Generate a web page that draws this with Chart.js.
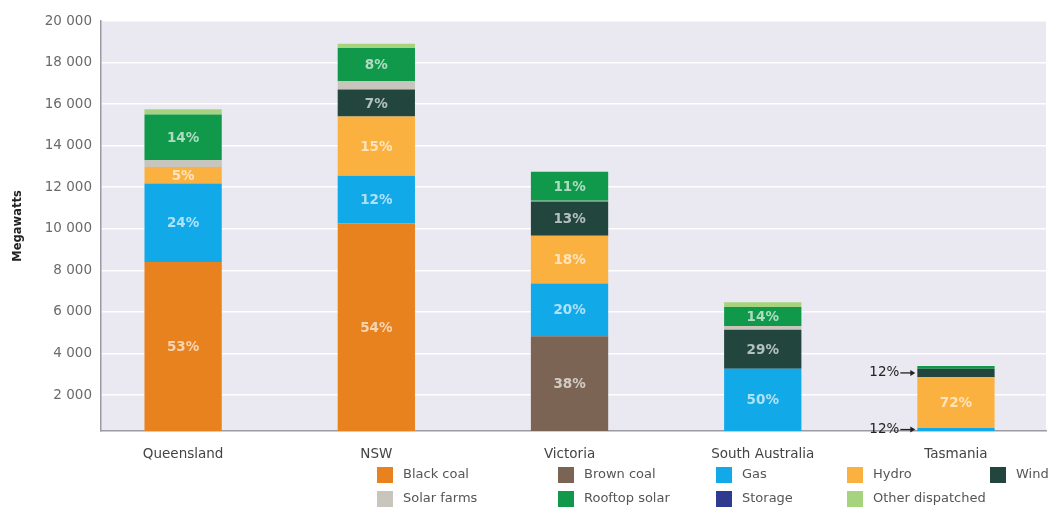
<!DOCTYPE html>
<html>
<head>
<meta charset="utf-8">
<title>Installed capacity by region</title>
<script src="https://cdn.jsdelivr.net/npm/chart.js@4.4.1/dist/chart.umd.min.js"></script>
<style>
  html, body { margin: 0; padding: 0; background: #fff; }
  #wrap { width: 1050px; height: 508px; }
</style>
</head>
<body>
<div id="wrap"><canvas id="capacityChart" width="1050" height="508"></canvas></div>
<script>
// Installed capacity (MW) per region, stacked by fuel
const regions = ['Queensland', 'NSW', 'Victoria', 'South Australia', 'Tasmania'];
const blackCoal       = [8400, 10250,    0,    0,    0];
const brownCoal       = [   0,     0, 4830,    0,    0];
const gas             = [3780,  2300, 2540, 3260,  410];
const hydro           = [ 800,  2850, 2290,    0, 2450];
const wind            = [   0,  1300, 1650, 1880,  410];
const solarFarms      = [ 320,   400,   40,  180,    0];
const rooftopSolar    = [2200,  1600, 1390,  920,  130];
const storage         = [   0,     0,    0,    0,    0];
const otherDispatched = [ 250,   200,    0,  220,    0];

const yTicks = [2000, 4000, 6000, 8000, 10000, 12000, 14000, 16000, 18000, 20000];

const fuelNames = ['Black coal', 'Brown coal', 'Gas', 'Hydro', 'Wind',
                   'Solar farms', 'Rooftop solar', 'Storage', 'Other dispatched'];
const fuelValues = [blackCoal, brownCoal, gas, hydro, wind,
                    solarFarms, rooftopSolar, storage, otherDispatched];
const fuelColours = ['#e8821f', '#7b6454', '#12a9e9', '#fbb140', '#22463e',
                     '#c9c5bd', '#10994a', '#2e3b8f', '#a6d47e'];
// fuels that get their share written on the bar
const labelledFuels = ['Black coal', 'Brown coal', 'Gas', 'Hydro', 'Wind', 'Rooftop solar'];

const FONT = '"DejaVu Sans", "Liberation Sans", sans-serif';

const plotBackground = {
  id: 'plotBackground',
  beforeDraw(chart) {
    const { ctx, chartArea: a } = chart;
    ctx.save();
    ctx.fillStyle = '#eae9f1';
    ctx.fillRect(a.left, a.top, a.right - a.left, a.bottom - a.top);
    ctx.restore();
  }
};

const shareLabels = {
  id: 'shareLabels',
  afterDatasetsDraw(chart) {
    const { ctx, chartArea: a } = chart;
    const totals = regions.map((_, i) => fuelValues.reduce((s, arr) => s + arr[i], 0));
    ctx.save();
    ctx.textBaseline = 'middle';
    chart.data.datasets.forEach((ds, d) => {
      if (!labelledFuels.includes(ds.label)) return;
      chart.getDatasetMeta(d).data.forEach((bar, i) => {
        const v = fuelValues[d][i];
        if (!v) return;
        const share = Math.round(v / totals[i] * 100);
        const pct = share + '%';
        const top = Math.max(bar.y, a.top);
        const bottom = Math.min(bar.base, a.bottom);
        const mid = (top + bottom) / 2;
        if (bottom - top >= 14) {
          ctx.font = 'bold 13.5px ' + FONT;
          ctx.fillStyle = 'rgba(255,255,255,0.66)';
          ctx.textAlign = 'center';
          ctx.fillText(pct, bar.x, mid + 1);
        } else if (share >= 10) {
          // thin segment: label sits left of the bar with an arrow
          const edge = bar.x - bar.width / 2;
          ctx.font = '13.5px ' + FONT;
          ctx.fillStyle = '#222';
          ctx.strokeStyle = '#222';
          ctx.textAlign = 'right';
          ctx.fillText(pct, edge - 18, mid);
          ctx.lineWidth = 1.3;
          ctx.beginPath();
          ctx.moveTo(edge - 17, mid);
          ctx.lineTo(edge - 6, mid);
          ctx.stroke();
          ctx.beginPath();
          ctx.moveTo(edge - 2, mid);
          ctx.lineTo(edge - 7, mid - 3);
          ctx.lineTo(edge - 7, mid + 3);
          ctx.closePath();
          ctx.fill();
        }
      });
    });
    ctx.restore();
  }
};

// two-row legend with aligned columns under the plot
const fuelLegend = {
  id: 'fuelLegend',
  afterDraw(chart) {
    const { ctx } = chart;
    const colX = [377, 558, 716, 847, 990];
    const rowY = [475, 499];
    ctx.save();
    ctx.font = '13px ' + FONT;
    ctx.textBaseline = 'middle';
    ctx.textAlign = 'left';
    chart.data.datasets.forEach((ds, d) => {
      const x = colX[d % 5];
      const y = rowY[Math.floor(d / 5)];
      ctx.fillStyle = ds.backgroundColor;
      ctx.fillRect(x, y - 8, 16, 16);
      ctx.fillStyle = '#555';
      ctx.fillText(ds.label, x + 26, y);
    });
    ctx.restore();
  }
};

new Chart(document.getElementById('capacityChart'), {
  type: 'bar',
  data: {
    datasets: fuelNames.map((name, d) => ({
      label: name,
      data: fuelValues[d].map((v, i) => ({ x: i, y: v })),
      backgroundColor: fuelColours[d],
      borderWidth: 0,
      categoryPercentage: 0.8,
      barPercentage: 0.5
    }))
  },
  options: {
    responsive: false,
    animation: false,
    devicePixelRatio: 1,
    layout: { padding: { top: 21, left: 6, right: 4, bottom: 0 } },
    plugins: {
      legend: { display: false },
      tooltip: { enabled: false }
    },
    scales: {
      x: {
        type: 'linear',
        min: -0.425,
        max: 4.466,
        offset: false,
        stacked: true,
        grid: { display: false, offset: false },
        border: { color: '#9b9ba3', width: 1.5 },
        afterBuildTicks: s => { s.ticks = regions.map((_, i) => ({ value: i })); },
        afterFit: s => { s.height = 77; },
        ticks: {
          callback: v => regions[v],
          autoSkip: false,
          maxRotation: 0,
          padding: 7,
          color: '#444',
          font: { family: FONT, size: 13.5 }
        }
      },
      y: {
        min: 270,
        max: 20000,
        stacked: true,
        afterBuildTicks: s => { s.ticks = yTicks.map(v => ({ value: v })); },
        afterFit: s => { s.width = 95; },
        grid: { color: 'rgba(255,255,255,0.95)', lineWidth: 1.5, drawTicks: false },
        border: { color: '#9b9ba3', width: 1.5 },
        ticks: {
          padding: 9,
          color: '#6a6a6a',
          font: { family: FONT, size: 13.5 },
          callback: v => String(v).replace(/\B(?=(\d{3})+(?!\d))/g, ' ')
        },
        title: {
          display: true,
          text: 'Megawatts',
          color: '#222',
          font: { family: FONT, size: 11.5, weight: 'bold' },
          padding: { top: 5, bottom: 0 }
        }
      }
    }
  },
  plugins: [plotBackground, shareLabels, fuelLegend]
});
</script>
</body>
</html>
